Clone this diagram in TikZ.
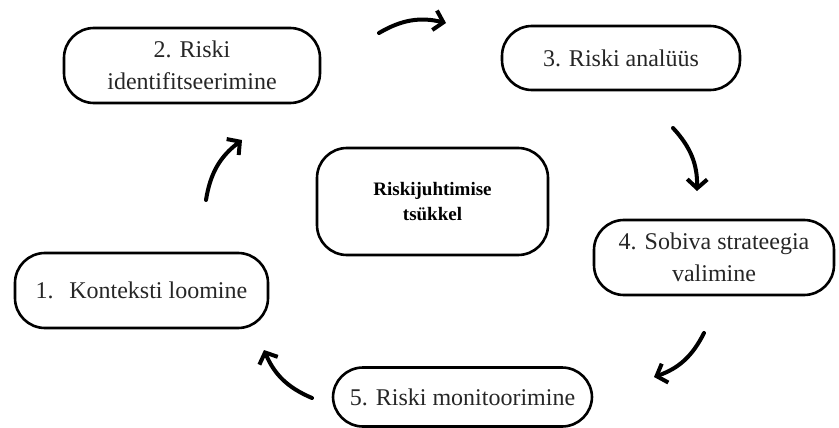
\documentclass[tikz,border=0pt]{standalone}
\usepackage{fontspec}
\setmainfont{Liberation Serif}
\usepackage{tikz}
\usetikzlibrary{arrows.meta}

\begin{document}
\begin{tikzpicture}[x=1pt, y=-1pt,
        stage/.style={draw=black, line width=2.6pt, rounded corners=30pt, align=center,
            inner sep=0pt, font=\fontsize{24}{32}\selectfont, text=black!85},
        hub/.style={stage, font=\fontsize{19}{25}\selectfont\bfseries, text=black},
        cyc/.style={line width=4pt, line cap=round, line join=round,
            -{Straight Barb[length=9pt, width=20pt, line width=4pt]}, bend left=22}]
                \useasboundingbox (0,0) rectangle (839,428);
                \node[stage, minimum width=253pt, minimum height=75pt] (kontekst) at (141.5,290.5) {1.\hspace{0.65em}Konteksti loomine};
                \node[stage, minimum width=256pt, minimum height=75pt] (ident) at (192,65.5) {2. Riski\\identifitseerimine};
                \node[stage, minimum width=238pt, minimum height=64pt] (anal) at (621,58) {3. Riski anal\"u\"us};
                \node[hub, minimum width=231pt, minimum height=107pt] (tsykkel) at (432.5,201.5) {Riskijuhtimise\\ts\"ukkel};
                \node[stage, minimum width=240pt, minimum height=75pt] (strat) at (714,257.5) {4. Sobiva strateegia\\valimine};
                \node[stage, minimum width=259pt, minimum height=59pt] (monit) at (462.5,397) {5. Riski monitoorimine};
                % noolte otsad
                \coordinate (a1) at (206,200);   \coordinate (b1) at (242,140);
                \coordinate (a2) at (379,33);    \coordinate (b2) at (446,23);
                \coordinate (a3) at (673,128);   \coordinate (b3) at (697,191);
                \coordinate (a4) at (704,333);   \coordinate (b4) at (654,377);
                \coordinate (a5) at (312,398);   \coordinate (b5) at (264,350);
                \draw[cyc] (a1) to (b1);
                \draw[cyc] (a2) to (b2);
                \draw[cyc] (a3) to (b3);
                \draw[cyc] (a4) to (b4);
                \draw[cyc] (a5) to (b5);
\end{tikzpicture}
\end{document}
